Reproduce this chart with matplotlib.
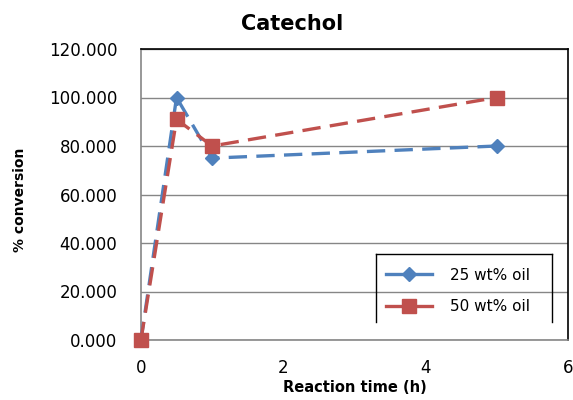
import matplotlib
matplotlib.use("Agg")
import matplotlib.pyplot as plt
from matplotlib.lines import Line2D

# Reaction time (h) and % conversion for catechol
time_h = [0, 0.5, 1, 5]
conv_25 = [0, 100, 75, 80]
conv_50 = [0, 91, 80, 100]
series_labels = ["25 wt% oil", "50 wt% oil"]
x_ticks = [0, 2, 4, 6]
y_ticks = [0, 20, 40, 60, 80, 100, 120]

blue = "#4F81BD"
red = "#C0504D"

fig = plt.figure(figsize=(5.73, 4.0), dpi=100)
ax = fig.add_axes([0.246, 0.15, 0.745, 0.7275])

ax.set_xlim(0, 6)
ax.set_ylim(0, 120)
ax.set_yticks(y_ticks)
ax.set_xticks(x_ticks)
ax.yaxis.set_major_formatter(matplotlib.ticker.FormatStrFormatter("%.3f"))
ax.grid(axis="y", color="#868686", lw=1.0)
ax.set_axisbelow(True)

lw = 2.4
dash = (0, (5.5, 2.8))
ax.plot(time_h, conv_25, color=blue, lw=lw, ls=dash,
        marker="D", markersize=7.5, markeredgecolor=blue, clip_on=False,
        zorder=3)
ax.plot(time_h, conv_50, color=red, lw=lw, ls=dash,
        marker="s", markersize=9.5, markeredgecolor=red, clip_on=False,
        zorder=4)

for side in ("left", "bottom"):
    ax.spines[side].set_color("#868686")
    ax.spines[side].set_linewidth(1.2)
for side in ("top", "right"):
    ax.spines[side].set_color("black")
    ax.spines[side].set_linewidth(1.2)

ax.tick_params(axis="both", length=0, labelsize=12)
ax.tick_params(axis="y", pad=17)
ax.tick_params(axis="x", pad=14)

fig.text(0.51, 0.94, "Catechol", fontsize=15, fontweight="bold",
         ha="center", va="center")
fig.text(0.62, 0.03, "Reaction time (h)", fontsize=10.5, fontweight="bold",
         ha="center", va="center")
fig.text(0.035, 0.50, "% conversion", fontsize=10, fontweight="bold",
         ha="center", va="center", rotation=90)

h1 = Line2D([], [], color=blue, lw=lw, marker="D", markersize=7.5)
h2 = Line2D([], [], color=red, lw=lw, marker="s", markersize=9.5)
ax.legend([h1, h2], series_labels, loc="upper left",
          bbox_to_anchor=(0.56, 0.27), frameon=False, fontsize=11,
          handlelength=3.0, labelspacing=1.1, handletextpad=1.2,
          borderaxespad=0)

# open-bottomed box around the legend
bx0, bx1, by0, by1 = 0.550, 0.963, 0.062, 0.2955
box_kw = dict(transform=ax.transAxes, color="black", lw=1.0, zorder=5)
ax.add_line(Line2D([bx0, bx0], [by0, by1], **box_kw))
ax.add_line(Line2D([bx0, bx1], [by1, by1], **box_kw))
ax.add_line(Line2D([bx1, bx1], [by0, by1], **box_kw))

fig.savefig("out.png", dpi=100)
